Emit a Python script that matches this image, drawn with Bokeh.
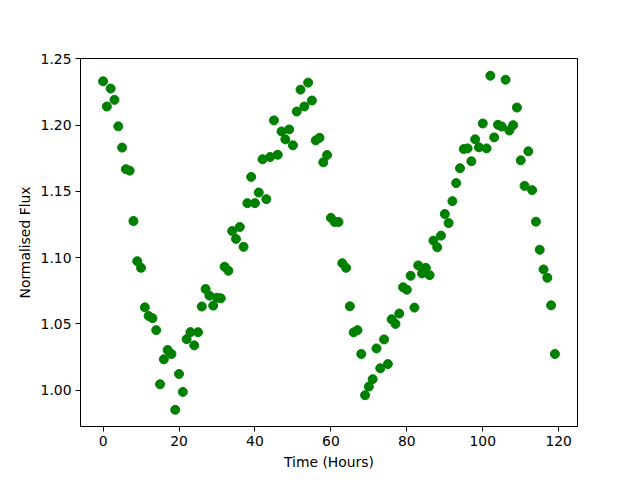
from bokeh.plotting import figure
from bokeh.models import FixedTicker, PrintfTickFormatter, Range1d, ColumnDataSource
from bokeh.embed import file_html
from bokeh.resources import INLINE

hours = list(range(120))
flux = [
    1.233, 1.214, 1.2275, 1.219, 1.199, 1.183, 1.1667, 1.1656, 1.1276, 1.0973,
    1.0923, 1.0625, 1.056, 1.0543, 1.0453, 1.0045, 1.0233, 1.0303, 1.0273, 0.9852,
    1.0122, 0.9987, 1.0385, 1.0438, 1.0338, 1.0437, 1.0631, 1.0763, 1.0713, 1.0638,
    1.0698, 1.0693, 1.0931, 1.0901, 1.1201, 1.1141, 1.1231, 1.1081, 1.1411, 1.1609,
    1.1411, 1.1491, 1.1742, 1.1441, 1.1759, 1.2035, 1.1776, 1.1952, 1.1892, 1.1967,
    1.1847, 1.2102, 1.2267, 1.214, 1.232, 1.2185, 1.1884, 1.1904, 1.1719, 1.1774,
    1.1300, 1.1269, 1.1269, 1.0958, 1.0923, 1.0633, 1.0436, 1.0453, 1.0273, 0.9962,
    1.0027, 1.0083, 1.0315, 1.0165, 1.0383, 1.0197, 1.0535, 1.0500, 1.0578, 1.0776,
    1.0758, 1.0863, 1.0623, 1.0941, 1.0881, 1.0923, 1.0868, 1.1128, 1.1078, 1.1166,
    1.1329, 1.1261, 1.1426, 1.1562, 1.1674, 1.1819, 1.1824, 1.1727, 1.1892, 1.1832,
    1.2012, 1.1824, 1.2372, 1.1907, 1.2002, 1.1989, 1.2342, 1.1959, 1.1999, 1.2132,
    1.1734, 1.1541, 1.1802, 1.1509, 1.1271, 1.1059, 1.0911, 1.0848, 1.0640, 1.0273,
]

x_ticks = [0, 20, 40, 60, 80, 100, 120]
y_ticks = [1.00, 1.05, 1.10, 1.15, 1.20, 1.25]

src = ColumnDataSource(data=dict(hours=hours, flux=flux))

xpad = (max(hours) - min(hours)) * 0.05
ypad = (max(flux) - min(flux)) * 0.05

p = figure(width=632, height=472, output_backend="svg", toolbar_location=None,
           x_range=Range1d(min(hours) - xpad, max(hours) + xpad),
           y_range=Range1d(min(flux) - ypad, max(flux) + ypad + 0.0004),
           min_border_left=80, min_border_right=55, min_border_top=58, min_border_bottom=45)

p.scatter("hours", "flux", source=src, size=9, color="#008000", line_color="#008000")

p.xgrid.visible = False
p.ygrid.visible = False
p.outline_line_color = "black"
p.outline_line_width = 1
p.background_fill_color = "white"
p.border_fill_color = "white"

p.xaxis.ticker = FixedTicker(ticks=x_ticks)
p.yaxis.ticker = FixedTicker(ticks=y_ticks)
p.xaxis.formatter = PrintfTickFormatter(format="%d")
p.yaxis.formatter = PrintfTickFormatter(format="%.2f")
p.xaxis.axis_label = "Time (Hours)"
p.yaxis.axis_label = "Normalised Flux"

for ax in (p.xaxis[0], p.yaxis[0]):
    ax.axis_line_color = "black"
    ax.major_tick_line_color = "black"
    ax.minor_tick_line_color = None
    ax.major_tick_out = 5
    ax.major_tick_in = 0
    ax.major_label_standoff = 4
    ax.axis_label_standoff = 5
    ax.major_label_text_font = "DejaVu Sans"
    ax.major_label_text_font_size = "13.9px"
    ax.major_label_text_color = "black"
    ax.axis_label_text_font = "DejaVu Sans"
    ax.axis_label_text_font_size = "13.9px"
    ax.axis_label_text_font_style = "normal"
    ax.axis_label_text_color = "black"

open("out.html", "w").write(file_html(p, INLINE))
